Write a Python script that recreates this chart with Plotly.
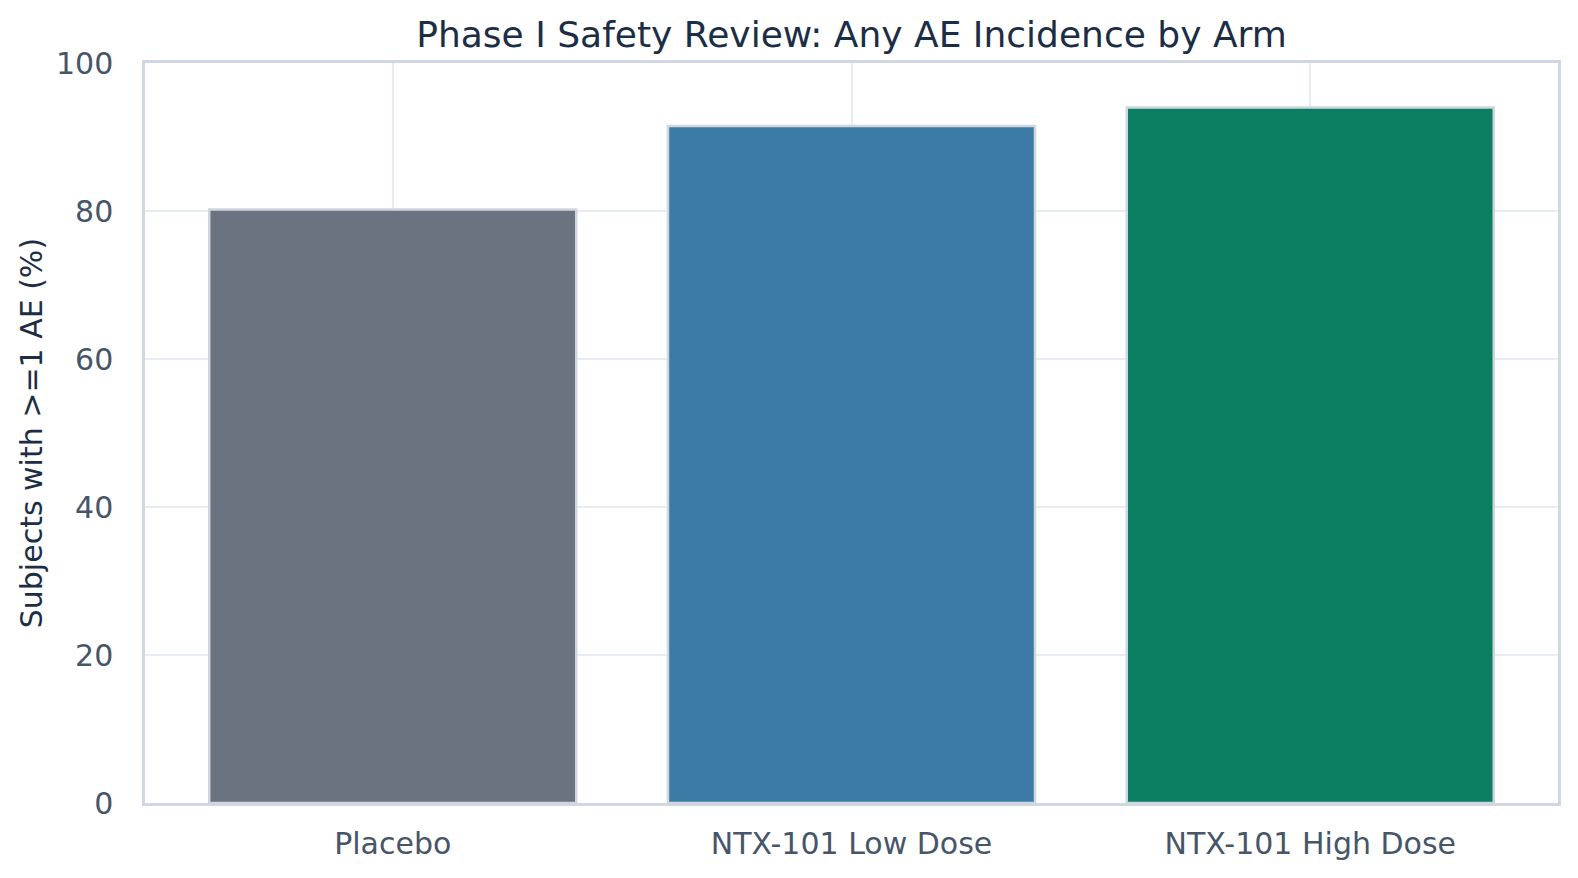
import plotly.graph_objects as go

# Any-AE incidence per treatment arm (%)
arms = ["Placebo", "NTX-101 Low Dose", "NTX-101 High Dose"]
any_ae_pct = [80.2, 91.5, 94.0]
arm_colors = ["#6B7280", "#3B7BA6", "#0C7F62"]

y_ticks = [0, 20, 40, 60, 80, 100]

FONT = "DejaVu Sans"
TICK_COLOR = "#475569"
TITLE_COLOR = "#1C2E45"
FRAME_COLOR = "#D0D7E2"
GRID_COLOR = "#E8EDF5"

# page body keeps its default 8px margin, so the figure is sized to fit inside it
W, H = 1562, 862
PLOT_W = W - 137 - 9

bar_trace = go.Bar(
    x=arms,
    y=any_ae_pct,
    marker=dict(color=arm_colors, line=dict(color="#D1D6DE", width=2.5)),
    hoverinfo="x+y",
)

fig = go.Figure(
    data=[bar_trace],
    layout=go.Layout(
        width=W,
        height=H,
        paper_bgcolor="white",
        plot_bgcolor="white",
        showlegend=False,
        bargap=0.2,
        margin=dict(l=137, r=9, t=55, b=67),
        font=dict(family=FONT, size=30, color=TICK_COLOR),
        title=dict(
            text="Phase I Safety Review: Any AE Incidence by Arm",
            font=dict(family=FONT, size=36, color=TITLE_COLOR),
            x=0.5, xref="paper", xanchor="center",
            y=1 - 26 / H, yref="container", yanchor="middle",
        ),
        xaxis=dict(
            range=[-0.54, 2.54],
            showgrid=True, gridcolor=GRID_COLOR, gridwidth=1.5,
            showline=True, linecolor=FRAME_COLOR, linewidth=2.5, mirror=True,
            ticks="", ticklabelstandoff=12,
            tickfont=dict(family=FONT, size=30, color=TICK_COLOR),
            zeroline=False,
        ),
        yaxis=dict(
            range=[0, 100],
            tickvals=y_ticks,
            showgrid=True, gridcolor=GRID_COLOR, gridwidth=1.5,
            showline=True, linecolor=FRAME_COLOR, linewidth=2.5, mirror=True,
            ticks="", ticklabelstandoff=23,
            tickfont=dict(family=FONT, size=30, color=TICK_COLOR),
            zeroline=False,
        ),
        annotations=[
            dict(
                text="Subjects with >=1 AE (%)",
                textangle=-90,
                xref="paper", yref="paper",
                x=(31 - 145) / PLOT_W, y=0.5,
                xanchor="center", yanchor="middle",
                showarrow=False,
                font=dict(family=FONT, size=30, color=TITLE_COLOR),
            )
        ],
    ),
)

fig.write_html("out.html")
